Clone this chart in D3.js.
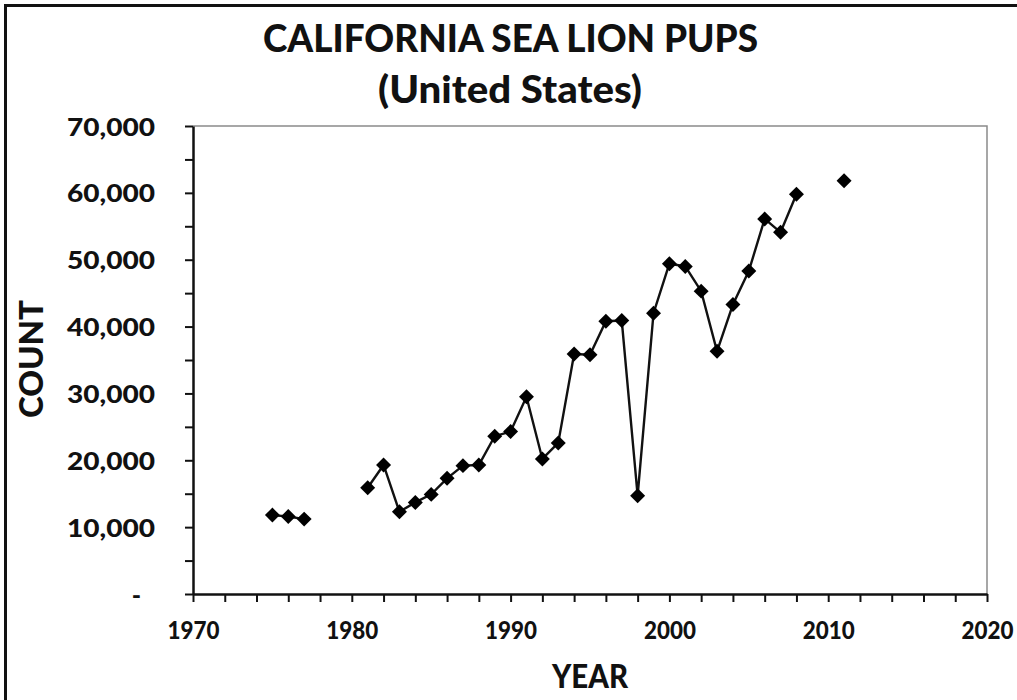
<!DOCTYPE html>
<html>
<head>
<meta charset="utf-8">
<script src="https://cdn.jsdelivr.net/npm/d3@7"></script>
<style>
  body { margin: 0; background: #fff; }
  text { font-family: Lato, "Open Sans", sans-serif; font-weight: 900; fill: #111; }
</style>
</head>
<body>
<div id="chart"></div>
<script>
// pup counts by year, null where no survey
const years = d3.range(1975, 2012);
const counts = [
  11800, 11600, 11200, null, null, null,
  15900, 19300, 12300, 13700, 14900, 17300, 19200, 19300, 23600, 24300,
  29500, 20200, 22600, 35900, 35800, 40800, 40900, 14700, 42000, 49400,
  49000, 45300, 36300, 43300, 48300, 56100, 54100, 59800, null, null,
  61800
];
const yTickValues = d3.range(0, 70001, 5000);
const yTickLabels = ["-", "10,000", "20,000", "30,000", "40,000", "50,000", "60,000", "70,000"];
const xTickValues = d3.range(1970, 2021, 2);
const xTickLabels = ["1970", "1980", "1990", "2000", "2010", "2020"];
const titleLines = ["CALIFORNIA SEA LION PUPS", "(United States)"];

const width = 1017, height = 700;
const margin = { top: 126, right: 30, bottom: 106, left: 193 };

const data = years.map((yr, i) => ({ year: yr, count: counts[i] }));

const svg = d3.select("#chart").append("svg")
    .attr("width", width)
    .attr("height", height);

// outer frame (cropped on right/bottom)
svg.append("rect")
    .attr("x", 5.5).attr("y", 5.5)
    .attr("width", 1100).attr("height", 1000)
    .attr("fill", "none")
    .attr("stroke", "#111")
    .attr("stroke-width", 3);

const x = d3.scaleLinear()
    .domain([1970, 2020])
    .range([margin.left, width - margin.right]);

const y = d3.scaleLinear()
    .domain([0, 70000])
    .range([height - margin.bottom, margin.top]);

// plot area border (top and right)
svg.append("path")
    .attr("d", `M${x(1970)},${y(70000)}H${x(2020)}V${y(0)}`)
    .attr("fill", "none")
    .attr("stroke", "#8a8a8a")
    .attr("stroke-width", 1.5);

// y axis
const yAxis = d3.axisLeft(y)
    .tickValues(yTickValues)
    .tickSize(8)
    .tickSizeOuter(0)
    .tickPadding(30)
    .tickFormat(d => d % 10000 === 0 ? yTickLabels[d / 10000] : "");

const yG = svg.append("g")
    .attr("transform", `translate(${x(1970)},0)`)
    .call(yAxis);

yG.selectAll("text")
    .style("font-size", "25px")
    .attr("dy", "0.36em")
    .each(function(d) {
      const t = d3.select(this);
      if (d === 0) t.attr("dx", -14);
      else if (d % 10000 === 0) t.attr("textLength", 88).attr("lengthAdjust", "spacingAndGlyphs");
    });

// x axis
const xAxis = d3.axisBottom(x)
    .tickValues(xTickValues)
    .tickSize(8)
    .tickSizeOuter(0)
    .tickPadding(20)
    .tickFormat(d => d % 10 === 0 ? xTickLabels[(d - 1970) / 10] : "");

const xG = svg.append("g")
    .attr("transform", `translate(0,${y(0)})`)
    .call(xAxis);

xG.selectAll("text")
    .style("font-size", "24px")
    .attr("dy", "0.72em")
    .each(function(d) {
      if (d % 10 === 0) d3.select(this).attr("textLength", 52).attr("lengthAdjust", "spacingAndGlyphs");
    });

svg.selectAll(".domain").attr("stroke", "#111").attr("stroke-width", 2.5);
svg.selectAll(".tick line").attr("stroke", "#111").attr("stroke-width", 2);

// line and markers
const line = d3.line()
    .defined(d => d.count !== null)
    .x(d => x(d.year))
    .y(d => y(d.count));

svg.append("path")
    .datum(data)
    .attr("d", line)
    .attr("fill", "none")
    .attr("stroke", "#111")
    .attr("stroke-width", 2.4);

const diamond = d3.symbol().type(d3.symbolSquare).size(112);

svg.selectAll(".pt")
  .data(data.filter(d => d.count !== null))
  .enter().append("path")
    .attr("class", "pt")
    .attr("d", diamond)
    .attr("transform", d => `translate(${x(d.year)},${y(d.count)}) rotate(45)`)
    .attr("fill", "#000");

// titles
svg.append("text")
    .attr("x", 510.5).attr("y", 52)
    .attr("text-anchor", "middle")
    .style("font-size", "37px")
    .attr("textLength", 495).attr("lengthAdjust", "spacingAndGlyphs")
    .text(titleLines[0]);

svg.append("text")
    .attr("x", 510).attr("y", 103)
    .attr("text-anchor", "middle")
    .style("font-size", "37px")
    .attr("textLength", 264).attr("lengthAdjust", "spacingAndGlyphs")
    .text(titleLines[1]);

svg.append("text")
    .attr("x", 590).attr("y", 688)
    .attr("text-anchor", "middle")
    .style("font-size", "32px")
    .attr("textLength", 76).attr("lengthAdjust", "spacingAndGlyphs")
    .text("YEAR");

svg.append("text")
    .attr("transform", "translate(43,359) rotate(-90)")
    .attr("text-anchor", "middle")
    .style("font-size", "32px")
    .attr("textLength", 118).attr("lengthAdjust", "spacingAndGlyphs")
    .text("COUNT");
</script>
</body>
</html>
